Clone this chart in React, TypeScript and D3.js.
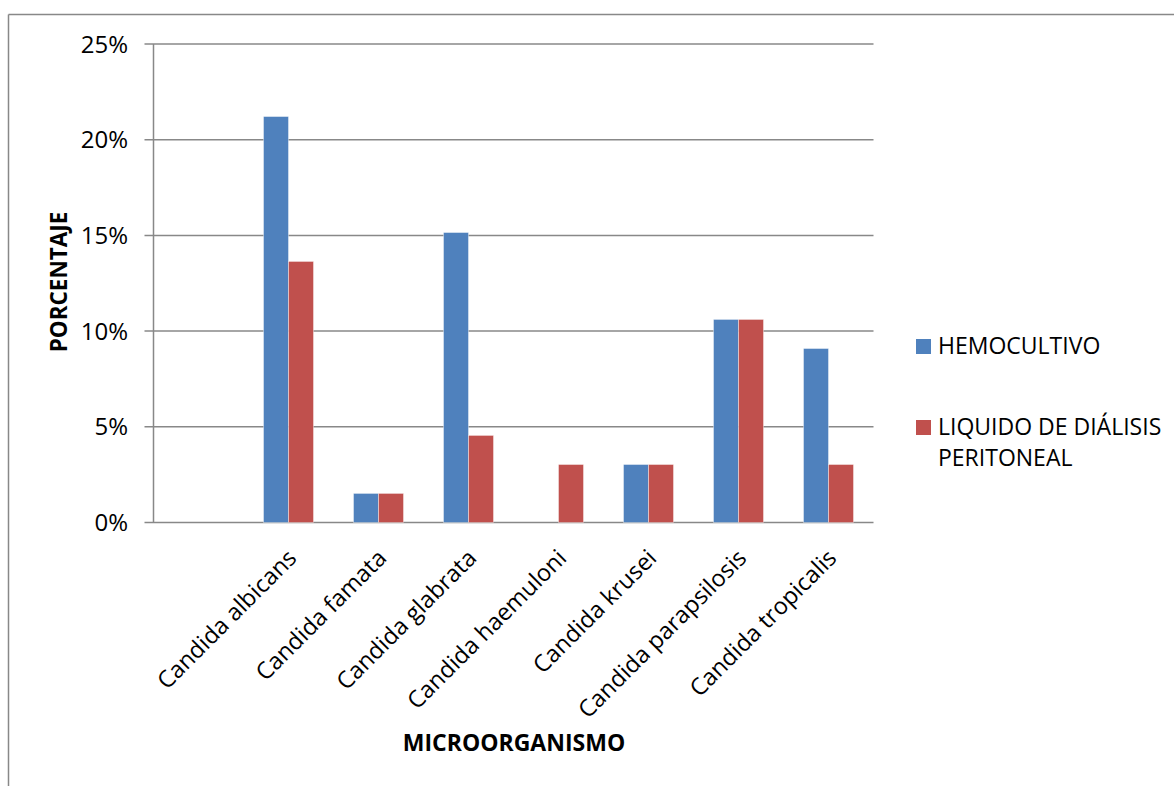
import React from "react";
import * as d3 from "d3";

// Categories (the first slot is an empty category on the axis)
const categories = [
  "",
  "Candida albicans",
  "Candida famata",
  "Candida glabrata",
  "Candida haemuloni",
  "Candida krusei",
  "Candida parapsilosis",
  "Candida tropicalis",
];
const seriesNames = ["HEMOCULTIVO", "LIQUIDO DE DIÁLISIS PERITONEAL"];
const hemocultivo = [null, 21.21, 1.52, 15.15, 0, 3.03, 10.61, 9.09];
const liquidoDialisis = [null, 13.64, 1.52, 4.55, 3.03, 3.03, 10.61, 3.03];
const yTicks = [0, 5, 10, 15, 20, 25];
const colors = ["#4F81BD", "#C0504D"];

const W = 1174;
const H = 786;
const plot = { left: 153.5, right: 873.5, top: 44, bottom: 522.5 };
const FONT = "'Open Sans', 'Liberation Sans', sans-serif";
const GRID = "#888888";

export default function App() {
  const x0 = d3
    .scaleBand<string>()
    .domain(categories.map((c, i) => String(i)))
    .range([plot.left, plot.right])
    .paddingInner(4 / 9)
    .paddingOuter(2 / 9);
  const x1 = d3
    .scaleBand<string>()
    .domain(seriesNames)
    .range([0, x0.bandwidth()]);
  const y = d3.scaleLinear().domain([0, 25]).range([plot.bottom, plot.top]);

  const series = [hemocultivo, liquidoDialisis];

  return (
    <svg
      width={W}
      height={H}
      style={{ position: "absolute", left: 0, top: 0, background: "#fff" }}
      fontFamily={FONT}
    >
      {/* outer chart frame */}
      <line x1={8.5} x2={W} y1={14.5} y2={14.5} stroke={GRID} strokeWidth={1.5} />
      <line x1={8.5} x2={8.5} y1={14.5} y2={H} stroke={GRID} strokeWidth={1.5} />

      {/* gridlines and y tick labels */}
      {yTicks.map((t) => (
        <g key={t}>
          <line
            x1={plot.left - 9}
            x2={plot.right}
            y1={y(t)}
            y2={y(t)}
            stroke={GRID}
            strokeWidth={1.5}
          />
          <text
            x={128}
            y={y(t) + 8.5}
            textAnchor="end"
            fontSize={24}
            fill="#000"
          >
            {`${t}%`}
          </text>
        </g>
      ))}
      {/* y axis line */}
      <line
        x1={plot.left}
        x2={plot.left}
        y1={plot.top}
        y2={plot.bottom}
        stroke={GRID}
        strokeWidth={1.5}
      />

      {/* bars */}
      {series.map((vals, si) =>
        vals.map((v, ci) =>
          v == null || v === 0 ? null : (
            <rect
              key={`${si}-${ci}`}
              x={(x0(String(ci)) as number) + (x1(seriesNames[si]) as number)}
              y={y(v)}
              width={x1.bandwidth()}
              height={plot.bottom - y(v)}
              fill={colors[si]}
              stroke="#ffffff"
              strokeOpacity={0.5}
              strokeWidth={0.8}
            />
          )
        )
      )}

      {/* category labels */}
      {categories.map((c, ci) => {
        if (!c) return null;
        const cx = (x0(String(ci)) as number) + x0.bandwidth() / 2 + 9.5;
        const cy = plot.bottom + 37;
        return (
          <text
            key={c}
            x={cx}
            y={cy}
            transform={`rotate(-45 ${cx} ${cy})`}
            textAnchor="end"
            fontSize={23.5}
            fill="#000"
          >
            {c}
          </text>
        );
      })}

      {/* axis titles */}
      <text
        x={514}
        y={751}
        textAnchor="middle"
        fontSize={23}
        fontWeight="bold"
        fill="#000"
      >
        MICROORGANISMO
      </text>
      <text
        transform={`translate(67 282) rotate(-90)`}
        textAnchor="middle"
        fontSize={22.5}
        fontWeight="bold"
        fill="#000"
      >
        PORCENTAJE
      </text>

      {/* legend */}
      <g>
        <rect x={916} y={339} width={15} height={15} fill={colors[0]} />
        <text x={938} y={354} fontSize={23} fill="#000">
          HEMOCULTIVO
        </text>
        <rect x={916} y={420} width={15} height={15} fill={colors[1]} />
        <text x={938} y={435} fontSize={23} fill="#000">
          <tspan x={938}>LIQUIDO DE DIÁLISIS</tspan>
          <tspan x={938} dy={31}>
            PERITONEAL
          </tspan>
        </text>
      </g>
    </svg>
  );
}
